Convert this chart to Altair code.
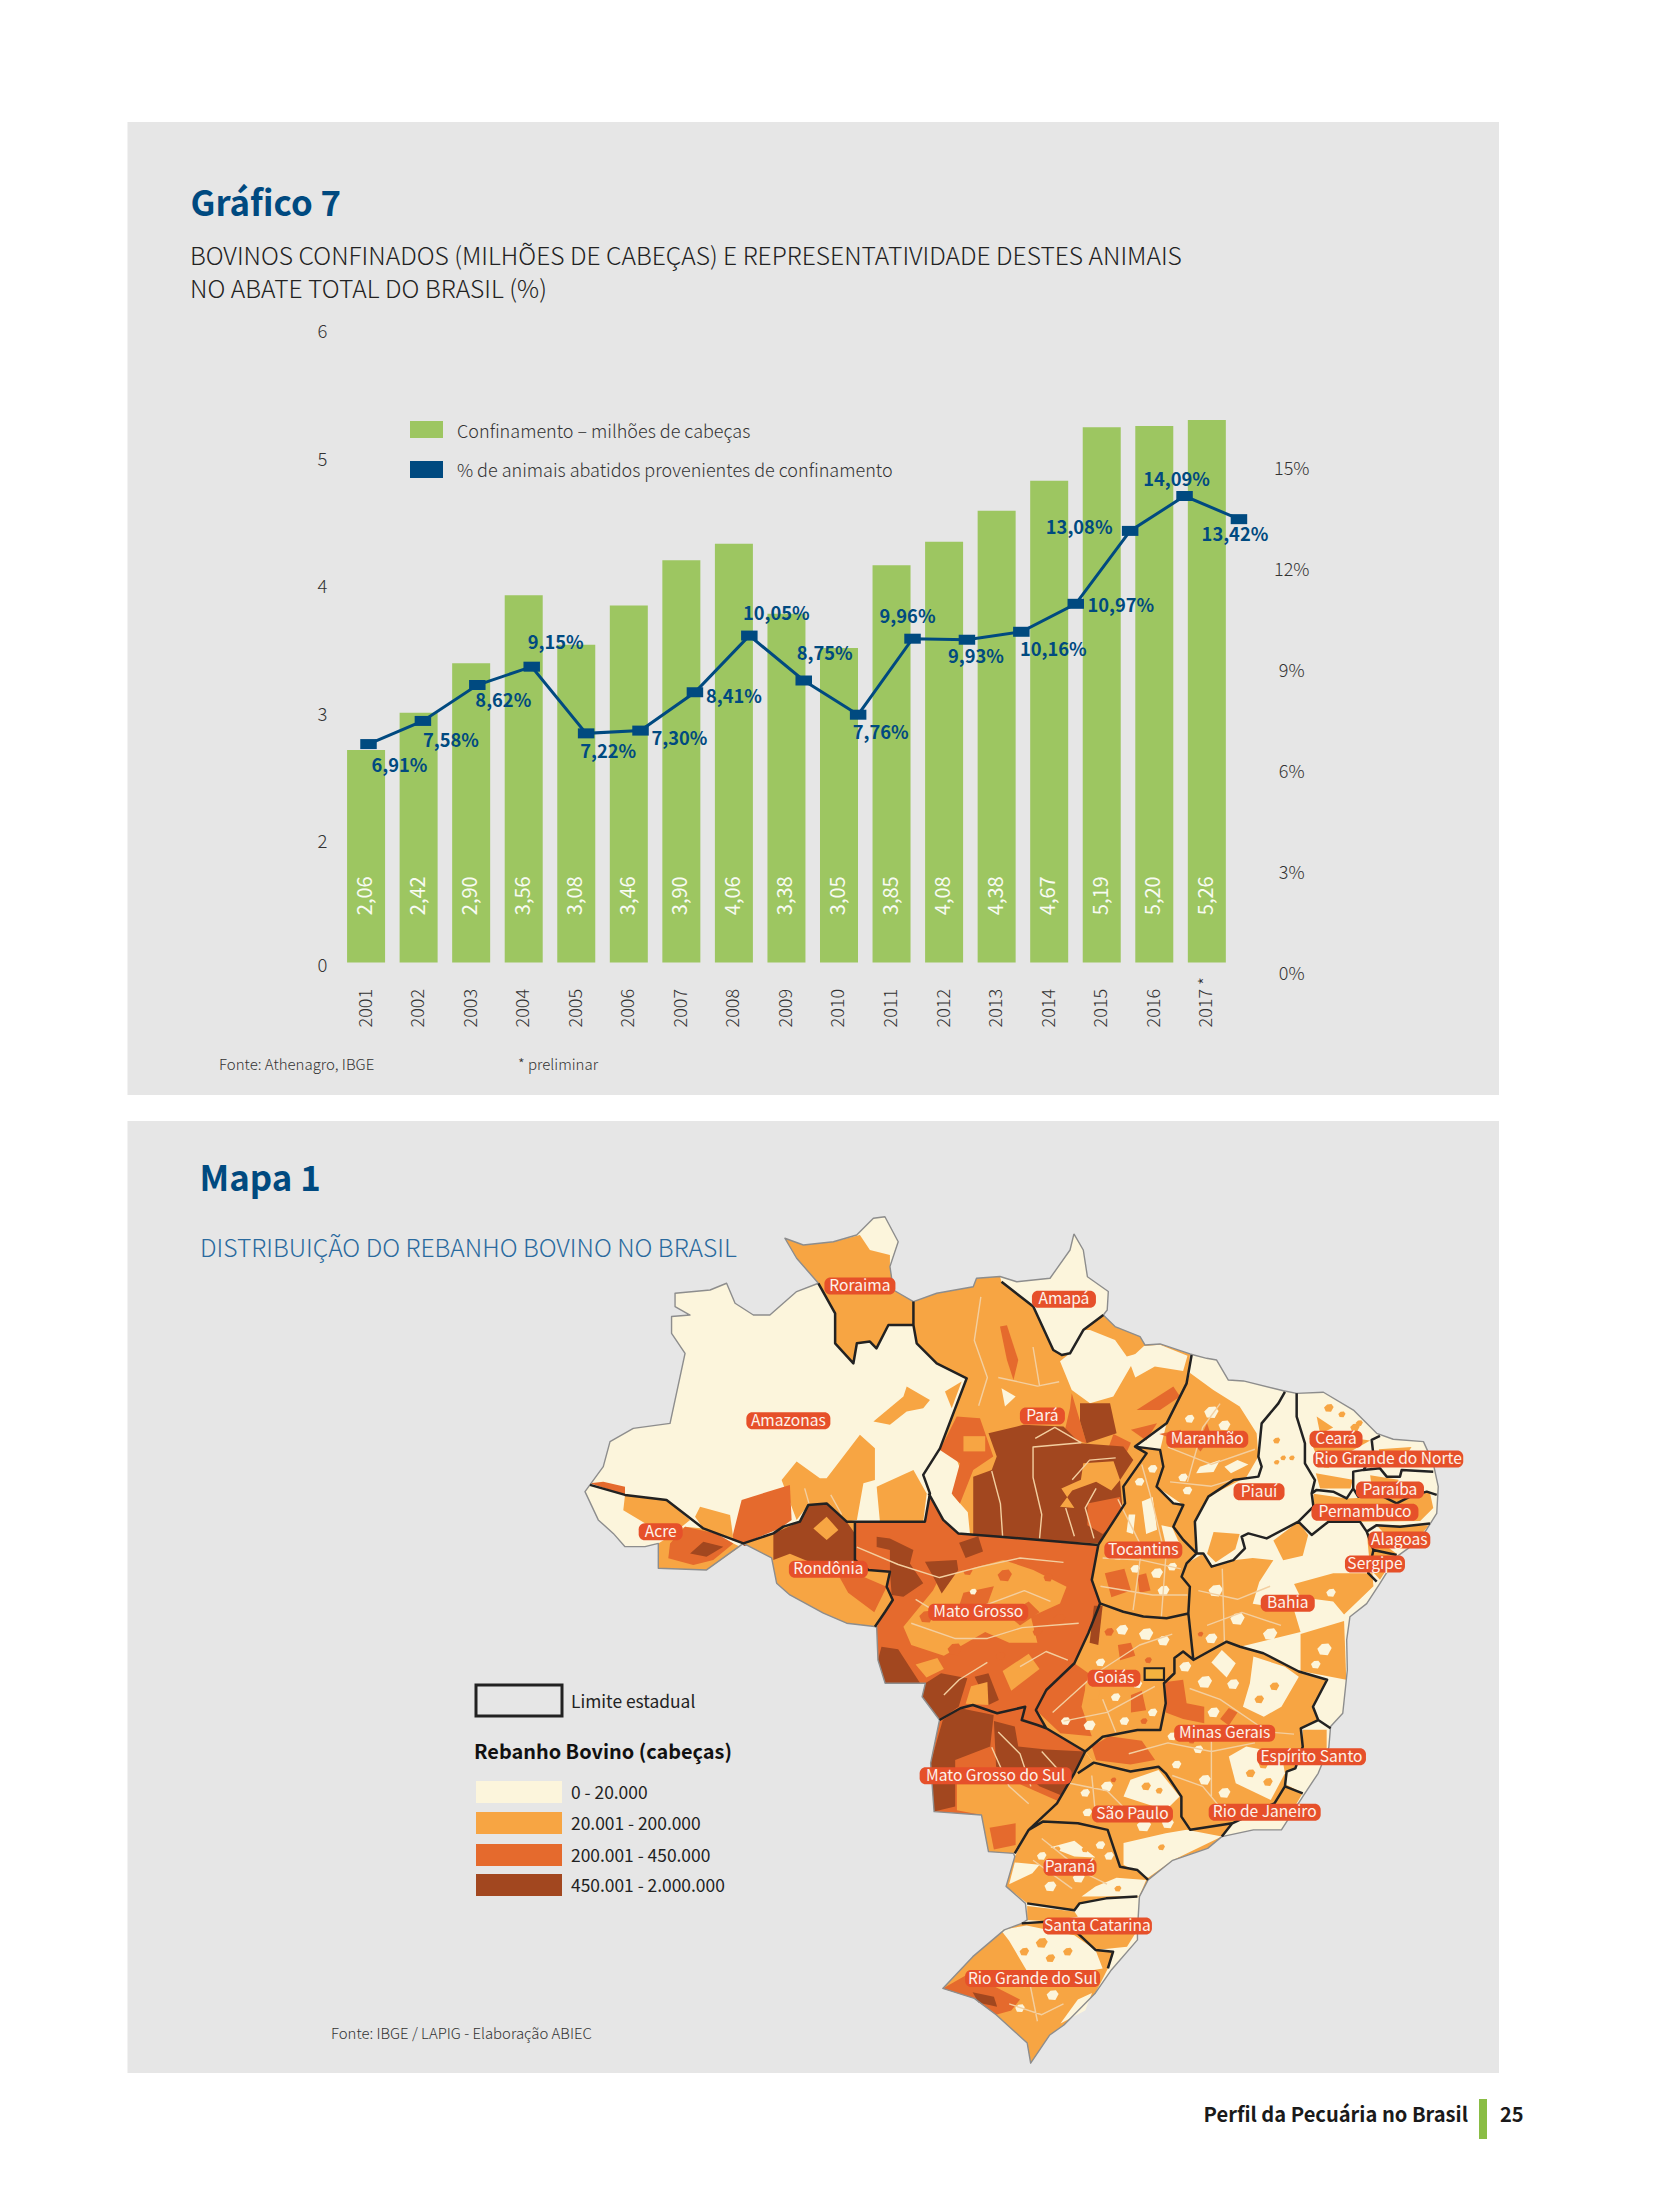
import altair as alt
import pandas as pd

FONT = "Noto Sans CJK SC"
BLUE = "#004a80"
GREEN = "#9dc661"
GREY = "#e6e6e6"
DARK = "#333333"
C1, C2, C3, C4 = "#fcf5dc", "#f7a543", "#e56a2d", "#a2471f"
PILL = "#e6502a"

# ---------- chart values ----------
years = list(range(2001, 2018))
confinados = [2.06, 2.42, 2.90, 3.56, 3.08, 3.46, 3.90, 4.06, 3.38, 3.05, 3.85, 4.08, 4.38, 4.67, 5.19, 5.20, 5.26]
pct = [6.91, 7.58, 8.62, 9.15, 7.22, 7.30, 8.41, 10.05, 8.75, 7.76, 9.96, 9.93, 10.16, 10.97, 13.08, 14.09, 13.42]
right_ticks = [0, 3, 6, 9, 12, 15]
left_labels = ["0", "2", "3", "4", "5", "6"]
left_label_at = [-0.03, 1.17, 2.40, 3.64, 4.87, 6.11]

# ---------- map values (lon, lat) ----------
outline = [(-51.52,4.4),(-51.09,3.66),(-50.9,2.43),(-49.94,1.75),(-49.99,0.9),(-50.17,0.67),(-49.63,0.14),(-48.48,-0.32),(-48.25,-0.71),(-47.56,-0.66),(-46.18,-1.12),(-45.42,-1.32),(-44.96,-1.4),(-44.42,-2.32),(-43.73,-2.36),(-41.89,-2.81),(-41.28,-2.93),(-40.05,-2.88),(-38.67,-3.7),(-37.6,-4.77),(-36.84,-5.04),(-35.45,-5.15),(-35,-6.15),(-34.77,-7.22),(-34.84,-8.45),(-35.61,-9.67),(-36.68,-10.44),(-37.45,-11.67),(-38.06,-12.6),(-38.83,-13.2),(-38.98,-14.27),(-38.95,-15.65),(-39.16,-17.64),(-39.72,-18.25),(-39.8,-19.2),(-40.29,-20.4),(-41,-21.47),(-41.98,-23),(-43.27,-23),(-44.72,-23.31),(-45.37,-23.85),(-46.98,-24.4),(-48.11,-25.3),(-48.51,-26.07),(-48.6,-27.6),(-48.6,-28.06),(-49.8,-29.44),(-50.53,-30.5),(-51.98,-31.97),(-52.63,-32.43),(-53.51,-33.73),(-53.67,-32.8),(-55.1,-31.5),(-56.1,-30.75),(-57.55,-30.29),(-56.17,-28.83),(-54.72,-27.6),(-53.92,-27.3),(-53.67,-27.14),(-53.75,-26.38),(-54.64,-25.6),(-54.24,-24.23),(-54.3,-24.08),(-55.45,-24),(-55.77,-22.32),(-57.95,-22.16),(-58.11,-19.94),(-57.7,-17.95),(-58.5,-16.88),(-58.35,-16.26),(-60.2,-16.26),(-60.53,-15.19),(-60.59,-13.66),(-61.97,-13.5),(-63.04,-13.04),(-64.58,-12.2),(-65.19,-11.66),(-65.42,-10.5),(-66.72,-9.83),(-68.41,-11.05),(-70.63,-10.97),(-70.63,-9.83),(-71.24,-9.98),(-72.16,-9.98),(-72.7,-9.37),(-73.39,-8.75),(-74,-7.45),(-73.16,-6.3),(-72.85,-5.15),(-71.78,-4.54),(-70.09,-4.31),(-69.4,-1.09),(-70.02,-0.17),(-70.02,0.6),(-69.17,0.67),(-69.86,1.06),(-69.86,1.67),(-68.25,1.82),(-67.49,2.13),(-67.1,1.21),(-66.26,0.67),(-65.5,0.67),(-64.27,1.75),(-63.27,2.13),(-64.27,3.28),(-64.81,4.2),(-63.96,3.89),(-62.58,4.04),(-61.51,4.35),(-60.74,5.12),(-60.21,5.19),(-59.6,4.04),(-59.98,2.9),(-59.82,1.82),(-58.9,1.29),(-57.83,1.67),(-56.15,1.97),(-56,2.36),(-54.92,2.44),(-54.15,2.2),(-52.62,2.36),(-51.7,3.66)]

para = [(-58.9,1.29),(-57.83,1.67),(-56.15,1.97),(-56,2.36),(-54.92,2.44),(-54.85,2.2),(-53.39,1.06),(-52.47,-0.94),(-52.08,-1.17),(-51.7,-1.09),(-51.09,-0.02),(-50.17,0.67),(-49.63,0.14),(-48.48,-0.32),(-48.25,-0.71),(-47.56,-0.66),(-46.18,-1.12),(-46.34,-2.47),(-47.26,-4.31),(-48.71,-5.38),(-48.18,-5.69),(-49.25,-7.22),(-49.17,-7.99),(-49.86,-9.06),(-50.4,-9.9),(-54.92,-9.52),(-56.84,-9.37),(-57.53,-8.75),(-58.2,-7.53),(-58.45,-6.68),(-57.68,-5.46),(-56.45,-2.24),(-57.83,-1.55),(-58.75,-0.63),(-58.9,0.21)]
mato_grosso = [(-61.59,-8.83),(-58.37,-8.83),(-58.2,-7.53),(-57.53,-8.75),(-56.84,-9.37),(-54.92,-9.52),(-50.4,-9.9),(-50.7,-11.51),(-50.32,-12.59),(-50.86,-13.96),(-51.5,-15.34),(-52.79,-16.57),(-53.27,-17.49),(-52.79,-18.33),(-53.2,-18.18),(-53.92,-17.95),(-53.76,-17.34),(-55.05,-17.64),(-56.17,-17.26),(-56.74,-17.41),(-57.7,-17.95),(-58.5,-16.88),(-58.35,-16.26),(-60.2,-16.26),(-60.53,-15.19),(-60.59,-13.66),(-60.2,-12.97),(-59.85,-12.43),(-60.13,-11.82),(-59.98,-11.13),(-60.97,-11.05),(-61.59,-10.59)]
mato_sul = [(-57.7,-17.95),(-56.74,-17.41),(-56.17,-17.26),(-55.05,-17.64),(-53.76,-17.34),(-53.92,-17.95),(-53.2,-18.18),(-52.79,-18.33),(-51,-19.4),(-51.5,-20.4),(-52.3,-21.78),(-53.6,-23),(-54.24,-24.08),(-55.45,-24),(-55.77,-22.32),(-57.95,-22.16),(-58.11,-19.94)]
rondonia = [(-65.34,-9.37),(-64.88,-9.06),(-64.12,-8.83),(-63.73,-8.06),(-62.89,-7.99),(-61.97,-8.83),(-61.59,-8.83),(-61.59,-10.59),(-60.97,-11.05),(-59.98,-11.13),(-60.13,-11.82),(-59.85,-12.43),(-60.2,-12.97),(-60.59,-13.66),(-61.97,-13.5),(-63.04,-13.04),(-64.58,-12.2),(-65.19,-11.66),(-65.42,-10.5),(-66.72,-9.83)]
goias = [(-50.32,-12.59),(-49.25,-12.97),(-48.33,-13.19),(-47.26,-13.27),(-46.26,-13.05),(-46.03,-15.19),(-46,-15.2),(-46.5,-14.8),(-46.9,-15.1),(-46.9,-15.8),(-47.38,-16.26),(-47.3,-17.18),(-47.55,-18.41),(-48.6,-18.41),(-50.2,-18.72),(-51,-19.4),(-52.79,-18.33),(-53.27,-17.49),(-52.79,-16.57),(-51.5,-15.34),(-50.86,-13.96)]
tocantins = [(-48.71,-5.38),(-47.56,-5.53),(-47.41,-6.3),(-47.72,-7.22),(-46.95,-7.99),(-46.49,-8.06),(-46.95,-9.06),(-46.49,-9.67),(-45.88,-10.29),(-46.34,-10.75),(-46.57,-11.36),(-46.19,-11.82),(-46.26,-13.05),(-47.26,-13.27),(-48.33,-13.19),(-49.25,-12.97),(-50.32,-12.59),(-50.7,-11.51),(-50.4,-9.9),(-49.86,-9.06),(-49.17,-7.99),(-49.25,-7.22),(-48.18,-5.69)]
minas = [(-46.03,-15.19),(-44.5,-14.35),(-43.88,-14.58),(-42.81,-14.88),(-41.18,-15.72),(-39.88,-16.1),(-40.53,-17.34),(-40.29,-17.95),(-41.09,-18.33),(-41,-19.17),(-41.34,-20.17),(-41.74,-20.32),(-41.82,-21),(-42.3,-21.78),(-44.24,-22.7),(-46.17,-23),(-46.58,-22.39),(-46.58,-21.47),(-47.3,-20.4),(-47.63,-20.1),(-48.92,-20.32),(-50.61,-19.91),(-51,-19.4),(-50.2,-18.72),(-48.6,-18.41),(-47.55,-18.41),(-47.3,-17.18),(-47.38,-16.26),(-46.9,-15.8),(-46.9,-15.1),(-46.5,-14.8),(-46,-15.2)]
sao_paulo = [(-51,-19.4),(-50.61,-19.91),(-48.92,-20.32),(-47.63,-20.1),(-47.3,-20.4),(-46.58,-21.47),(-46.58,-22.39),(-46.17,-23),(-44.24,-22.7),(-44.72,-23.31),(-45.37,-23.85),(-46.98,-24.4),(-48.11,-25.3),(-48.6,-24.85),(-49.4,-24.7),(-49.97,-23),(-51.34,-22.7),(-52.95,-22.62),(-53.6,-23),(-52.3,-21.78),(-51.5,-20.4)]
parana = [(-53.6,-23),(-52.95,-22.62),(-51.34,-22.7),(-49.97,-23),(-49.4,-24.7),(-48.6,-24.85),(-48.11,-25.3),(-48.51,-26.07),(-50.04,-26.15),(-51.26,-26.38),(-51.5,-26.7),(-53.67,-26.38),(-54.64,-25.6),(-54.24,-24.23)]
rio_sul = [(-53.92,-27.3),(-52.79,-27.22),(-51.34,-27.76),(-50.53,-28.52),(-49.72,-28.6),(-49.96,-29.37),(-50.53,-30.5),(-51.98,-31.97),(-52.63,-32.43),(-53.51,-33.73),(-53.67,-32.8),(-55.1,-31.5),(-56.1,-30.75),(-57.55,-30.29),(-56.17,-28.83),(-54.72,-27.6)]

patches = [
 (C2, [(-64.81,4.2),(-63.96,3.89),(-62.58,4.04),(-61.36,4.35),(-60.9,3.66),(-59.98,3.43),(-59.98,2.9),(-59.82,1.82),(-58.9,1.29),(-58.9,0.21),(-60.05,0.21),(-60.6,-0.86),(-60.9,-0.55),(-61.5,-0.63),(-61.66,-1.55),(-62.5,-0.63),(-62.5,0.75),(-63.27,2.13),(-64.27,3.28)]),
 (C2, para),
 (C1, [(-52.16,-1.46),(-51.7,-1.09),(-51.09,-0.02),(-50.78,-0.02),(-49.63,-0.48),(-49.09,-1.24),(-48.56,-1.09),(-49.71,-3.08),(-50.78,-3.39),(-51.62,-2.78)]),
 (C1, [(-48.3,-0.75),(-47.56,-0.7),(-46.3,-1.2),(-46.5,-1.9),(-47.8,-1.7),(-48.7,-2.2),(-49,-1.4)]),
 (C1, [(-58.1,-6.0),(-57.68,-5.5),(-56.9,-6.0),(-56.76,-6.4),(-57.1,-7.6),(-56.4,-8.4),(-56.3,-9.4),(-56.84,-9.37),(-57.53,-8.75),(-58.2,-7.53),(-58.45,-6.68)]),
 (C1, [(-54.85,-2.7),(-54.2,-3.08),(-54.69,-3.54)]),
 (C3, [(-54.92,0.14),(-54.6,0.2),(-54.08,-1.4),(-54.3,-2.32),(-54.6,-1.4)]),
 (C3, [(-56.91,-4),(-55.84,-4.08),(-55.23,-5.84),(-56.15,-6.45),(-56.76,-7.99),(-57.14,-7.53),(-56.76,-6.15),(-57.68,-5.53)]),
 (C2, [(-56.6,-4.9),(-55.6,-4.9),(-55.6,-5.6),(-56.6,-5.6)]),
 (C3, [(-48.64,-3.7),(-46.95,-2.62),(-46.64,-3.08),(-47.56,-3.7)]),
 (C3, [(-48.9,-4.6),(-47.7,-4.3),(-48.2,-5.1)]),
 (C3, [(-51.62,-2.93),(-50.94,-5.23),(-52,-4.9),(-51.7,-3.6)]),
 (C4, [(-51.24,-3.39),(-49.86,-3.39),(-49.56,-4.77),(-50.94,-5.23),(-51.24,-4.2)]),
 (C3, [(-49.7,-4.8),(-48.9,-5.2),(-49.3,-6.1),(-50,-5.6)]),
 (C4, [(-55.45,-4.77),(-53.85,-4.38),(-52,-4.46),(-51.24,-5.23),(-49.25,-5.38),(-48.79,-6),(-49.4,-6.92),(-49.25,-8.75),(-50.32,-9.83),(-56.15,-9.52),(-56.15,-6.76),(-55.3,-6.45),(-55.07,-5.84)]),
 (C2, [(-51.09,-6.15),(-49.7,-6.05),(-49.4,-6.92),(-49.8,-7.4),(-50.5,-7.0),(-51.6,-7.4),(-52.16,-8.14),(-51.5,-8.2),(-52.1,-7.3),(-51.2,-6.9)]),
 (C3, [(-50.9,-8),(-49.4,-7.7),(-49.3,-8.6),(-50.2,-9.4),(-50.9,-9.0)]),
 # Amazonas
 (C2, [(-62.89,-6.84),(-61.36,-4.84),(-60.67,-5.46),(-60.67,-6.91),(-61.2,-7.07),(-61.5,-8.75),(-61.97,-8.83),(-62.89,-7.99),(-63.73,-8.06),(-64.27,-8.75),(-64.96,-6.91),(-64.27,-6.07),(-63.2,-6.84)]),
 (C2, [(-60.59,-7.22),(-58.9,-6.45),(-58.29,-7.53),(-58.45,-8.83),(-60.44,-8.83)]),
 (C2, [(-60.74,-4.23),(-59.36,-3.08),(-59.21,-2.62),(-58.14,-3.24),(-58.45,-3.62),(-59.21,-3.77),(-59.98,-4.38)]),
 (C2, [(-57.45,-2.85),(-56.68,-2.39),(-57.14,-3.62)]),
 (C3, [(-67.26,-9.67),(-66.8,-7.83),(-64.58,-7.14),(-64.5,-8.75),(-65.04,-9.14),(-66.72,-9.83)]),
 (C2, [(-68.94,-8.6),(-68.71,-8.14),(-67.33,-8.52),(-67.18,-9.6),(-68.56,-9.14)]),
 (C3, [(-73.77,-7.07),(-73.16,-6.99),(-72.16,-7.22),(-72.16,-7.6)]),
 # Acre
 (C2, [(-72.16,-7.6),(-70.25,-7.83),(-69.17,-8.75),(-70.09,-9.5),(-70.63,-9.5),(-71.24,-8.9),(-72.24,-8.3)]),
 (C2, [(-70.63,-9.83),(-70.63,-10.97),(-68.41,-11.05),(-66.87,-9.98),(-68.56,-9.14),(-69.4,-9.06)]),
 (C3, [(-70.17,-10.51),(-70.09,-9.83),(-69.4,-9.06),(-67.95,-9.37),(-67.18,-9.83),(-68.1,-10.59),(-69.02,-10.82)]),
 (C4, [(-69.17,-10.29),(-68.56,-9.75),(-67.64,-9.98),(-68.41,-10.44)]),
 (C4, [(-66.72,-9.83),(-65.34,-9.37),(-65.19,-9.67),(-66.7,-9.95)]),
 # Rondonia
 (C2, rondonia),
 (C4, [(-65.34,-10.59),(-65.34,-9.37),(-64.12,-8.83),(-63.73,-8.06),(-62.89,-7.99),(-61.97,-8.83),(-61.59,-9.37),(-61.59,-10.59),(-61.2,-11.36),(-62.43,-10.9),(-63.5,-10.75),(-64.58,-10.3)]),
 (C2, [(-63.5,-9.14),(-62.89,-8.6),(-62.35,-9.21),(-62.89,-9.67)]),
 (C3, [(-62.4,-11.2),(-61.2,-11.36),(-60.13,-11.82),(-60.7,-13),(-61.9,-12.1)]),
 # Mato Grosso
 (C3, mato_grosso),
 (C2, [(-59.36,-13.66),(-58,-12),(-57.68,-11.36),(-54.77,-10.59),(-53.39,-11.05),(-51.86,-11.82),(-52.16,-12.59),(-53.5,-13.2),(-53.2,-14.4),(-54.5,-14.4),(-55.6,-13.9),(-57.5,-15),(-59,-14.5)]),
 (C3, [(-56.6,-12.1),(-55.2,-11.8),(-55.6,-12.9),(-56.9,-13)]),
 (C3, [(-54.6,-13.1),(-53.6,-12.5),(-53.1,-13.0),(-54,-13.6)]),
 (C4, [(-60.59,-9.52),(-59.98,-9.6),(-58.9,-10.13),(-59.06,-10.75),(-58.45,-11.66),(-59.36,-12.28),(-59.9,-12.2),(-59.98,-11.13),(-59.98,-10.13),(-60.59,-10)]),
 (C4, [(-58.37,-10.67),(-56.91,-10.59),(-56.84,-11.05),(-57.6,-12.13),(-57.91,-11.51)]),
 (C4, [(-55.92,-9.5),(-55.7,-10.2),(-56.5,-10.5),(-56.8,-9.8)]),
 (C4, [(-60.53,-15.19),(-60.37,-14.58),(-59.6,-14.7),(-59.08,-15.5),(-58.59,-16.26),(-60.2,-16.26)]),
 (C4, [(-58.5,-16.88),(-58.35,-16.26),(-57.63,-15.8),(-56.42,-16.03),(-56.82,-17.34),(-57.7,-17.95)]),
 (C4, [(-56.09,-15.96),(-55.45,-15.8),(-54.97,-17.03),(-55.45,-17.26)]),
 (C2, [(-56.5,-17.2),(-56.25,-16.4),(-55.5,-16.2),(-55.45,-17.26)]),
 (C2, [(-54.8,-15.7),(-53.6,-14.9),(-53.1,-15.6),(-54.4,-16.6)]),
 (C2, [(-58.8,-15.4),(-57.8,-15.1),(-57.5,-15.6),(-58.3,-16)]),
 # Mato Grosso do Sul
 (C3, mato_sul),
 (C4, [(-57.55,-17.95),(-56.74,-17.41),(-55.21,-17.72),(-55.37,-19.17),(-56.98,-19.79),(-56.98,-21.93),(-57.95,-22.16),(-58.11,-19.94)]),
 (C4, [(-55.2,-18.0),(-54.24,-18.25),(-54.08,-19.17),(-52.8,-19.3),(-51,-19.4),(-51.5,-20.4),(-51.98,-21.47),(-53.11,-21),(-53.75,-20.4),(-55.1,-20.1)]),
 (C2, [(-56.9,-20.9),(-54,-20.9),(-52.2,-21.7),(-53.6,-23),(-54.24,-24.08),(-55.45,-24),(-55.77,-22.32),(-56.9,-22.1)]),
 (C3, [(-55.4,-22.9),(-54.2,-22.7),(-54.2,-23.7),(-55.2,-23.9)]),
 # Tocantins, Goias
 (C2, tocantins),
 (C1, [(-48.4,-7.9),(-47.9,-7.7),(-47.7,-9.2),(-48.2,-9.4)]),
 (C1, [(-47.5,-9),(-47,-9.1),(-46.6,-10),(-47.2,-10.3)]),
 (C1, [(-49,-8.5),(-48.7,-8.5),(-48.8,-9.4),(-49.1,-9.3)]),
 (C3, [(-50.1,-11.2),(-49.2,-11),(-48.9,-12),(-49.8,-12.3)]),
 (C3, [(-48.6,-11.3),(-48.2,-11.2),(-48,-12),(-48.5,-12.1)]),
 (C2, goias),
 (C3, [(-53.27,-17.49),(-52.79,-16.57),(-51.5,-15.34),(-50.85,-15.8),(-51.17,-17.34),(-50.7,-18.7),(-52.14,-18.56)]),
 (C3, [(-49.5,-14.5),(-48.9,-14.4),(-48.7,-15),(-49.4,-15.2)]),
 (C3, [(-48.9,-16.8),(-48.4,-16.6),(-48.2,-17.5),(-48.9,-17.6)]),
 (C2, [(-51,-16.2),(-50.2,-16),(-50.4,-17),(-51,-17)]),
 (C4, [(-50.6,-12.7),(-50.2,-12.7),(-50.4,-14.5),(-50.8,-14.4)]),
 # Minas Gerais and neighbours
 (C2, minas),
 (C1, [(-43.27,-15.03),(-41.82,-15.5),(-41.18,-15.96),(-41.98,-17.34),(-42.79,-17.8),(-43.75,-17.34),(-43.43,-16.26)]),
 (C1, [(-44.4,-19.63),(-43.6,-19.17),(-41.98,-19.48),(-41.82,-20.4),(-42.47,-21.63),(-44.08,-20.86)]),
 (C1, [(-44.72,-14.73),(-44.08,-15.34),(-44.5,-16),(-45.2,-15.3)]),
 (C3, [(-50.7,-19.17),(-49.9,-18.7),(-48.4,-18.9),(-47.79,-19.79),(-48.92,-20),(-50.5,-19.8)]),
 (C3, [(-47.3,-16.2),(-46.5,-16.1),(-46.34,-17.18),(-45.53,-17.34),(-45.53,-18.1),(-46.5,-17.9),(-47.3,-17.6)]),
 (C3, [(-44.4,-17.4),(-44,-17.6),(-44.4,-18.2),(-44.8,-17.9)]),
 (C2, sao_paulo),
 (C1, [(-48.92,-20.7),(-47.63,-20.25),(-46.66,-21.47),(-47.3,-22.1),(-49.24,-21.47)]),
 (C1, [(-49.24,-24.6),(-49.24,-23.6),(-47.3,-23.16),(-46.34,-23),(-44.72,-23.31),(-46.98,-24.4),(-48.11,-25.2),(-49.08,-24.7)]),
 (C2, parana),
 (C1, [(-52.6,-23.8),(-51.5,-23.5),(-50.53,-24.27),(-51.5,-24.23)]),
 (C1, [(-49.56,-25.2),(-48.2,-25.3),(-48.51,-26.05),(-51.17,-26.07),(-50.53,-25.6)]),
 (C1, [(-54.24,-24.5),(-53.1,-24.6),(-53.43,-25),(-54.5,-25.5)]),
 (C2, [(-53.67,-26.5),(-51.5,-26.75),(-51.34,-27),(-52.79,-27.2),(-53.67,-27.14)]),
 (C2, [(-51.34,-27.8),(-50.53,-28.52),(-49.08,-28.37),(-48.6,-27.6),(-49.6,-27.6)]),
 (C2, rio_sul),
 (C1, [(-54.88,-27.6),(-53.7,-27.4),(-51.5,-27.85),(-50.53,-28.52),(-50.2,-29.37),(-51.5,-29.6),(-53.7,-29.45),(-54.5,-28.1)]),
 (C1, [(-52.14,-31.9),(-51.34,-30.8),(-50.69,-30.5),(-51,-31.3)]),
 (C3, [(-57.55,-30.29),(-56.34,-29.6),(-54,-30.8),(-54.4,-31.3),(-55.1,-31.5),(-56.1,-30.75)]),
 (C4, [(-56.18,-30.47),(-55.2,-30.67),(-55.05,-31.13),(-55.9,-30.95)]),
 # Maranhao, Piaui, Ceara, Northeast
 (C2, [(-46.18,-2),(-45.11,-2.78),(-43.9,-3.54),(-43.12,-4.77),(-43.04,-5.84),(-43.58,-6.76),(-45.34,-7.68),(-45.96,-8.83),(-45.88,-10.29),(-46.49,-9.67),(-46.95,-9.06),(-46.49,-8.06),(-47.72,-7.22),(-47.41,-6.3),(-47.56,-5.53),(-47.26,-4.31),(-46.34,-2.47)]),
 (C1, [(-45.73,-6.3),(-44.8,-6),(-45.1,-6.55),(-45.9,-6.6)]),
 (C1, [(-44.6,-6.3),(-44,-6),(-43.5,-6.2),(-44.3,-6.6)]),
 (C3, [(-45.9,-5.4),(-45.4,-4.3),(-45.2,-4.9),(-45.7,-5.6)]),
 (C3, [(-47.6,-4.8),(-46.6,-4.6),(-46.7,-5.1)]),
 (C2, [(-45.1,-9.3),(-43.9,-9.4),(-44.1,-10.1),(-45.0,-10.7),(-45.4,-10.3)]),
 (C2, [(-40.7,-5.0),(-38.66,-5),(-37.9,-5.1),(-38.8,-5.6),(-40.4,-5.7)]),
 (C2, [(-40.36,-4),(-39.6,-4.5),(-40.2,-4.8)]),
 (C2, [(-40.4,-6.6),(-38.7,-6.9),(-38.8,-7.3),(-40.2,-7.3)]),
 (C2, [(-37.5,-5.5),(-36,-5.4),(-36.5,-6.2),(-37.4,-6.3)]),
 (C2, [(-37.9,-6.7),(-36.6,-6.9),(-36.6,-7.5),(-37.8,-7.5)]),
 (C2, [(-40.5,-7.55),(-38.98,-7.76),(-37.3,-7.68),(-35.15,-7.5),(-35,-8.2),(-35.6,-8.8),(-38.37,-8.83),(-39.82,-8.83),(-40.51,-8.14)]),
 (C2, [(-42.35,-9.7),(-41.2,-8.83),(-40.75,-9.44),(-41,-10.4),(-41.9,-10.6)]),
 (C2, [(-46.34,-10.75),(-45.57,-10.29),(-45.19,-10.9),(-44.19,-10.6),(-43.3,-10.5),(-42.35,-10.6),(-43,-11.6),(-43.3,-12.6),(-41.4,-12.9),(-41.1,-13.9),(-43.88,-14.58),(-44.5,-14.35),(-46.03,-15.19),(-46.26,-13.05),(-46.19,-11.82),(-46.57,-11.36)]),
 (C2, [(-41.4,-11.7),(-39.6,-11.2),(-37.8,-11.2),(-37.75,-11.8),(-39.1,-13.1),(-39.6,-12.5),(-41.1,-12.3)]),
 (C2, [(-41.1,-14.0),(-39.1,-13.4),(-39,-16.1),(-41.1,-15.7)]),
 (C2, [(-38.06,-9.29),(-36.68,-10.3),(-37.45,-11.5),(-37.9,-11)]),
 (C2, [(-37.6,-9),(-35.2,-9),(-35.7,-9.6),(-36.6,-10.1)]),
 (C2, [(-41,-18.4),(-39.9,-18.4),(-39.9,-19.5),(-41,-19.3)]),
 (C2, [(-41.8,-20.9),(-41,-21.3),(-41.7,-22.5),(-43,-22.5),(-42.4,-21.7)]),
 (C1, [(-41.2,-19.5),(-40,-19.5),(-40.4,-20.6),(-41.1,-20.9)]),
]

# small municipal clusters: lon, lat, radius in degrees
cream_spots = [(-47.7,-11.2,.25),(-48.7,-11,.2),(-47.4,-12,.25),(-49.5,-10.4,.2),(-47,-10.9,.2),(-48.5,-7,.2),(-47.9,-6.4,.2),
 (-49.3,-13.8,.25),(-48.2,-14,.3),(-47.4,-14.3,.25),(-50.3,-15.3,.2),(-49.6,-16.9,.2),(-48.6,-16.3,.2),(-49.2,-18,.2),(-51.9,-18,.2),(-50.8,-18.2,.25),(-47.9,-17.6,.2),
 (-46.4,-15.5,.25),(-45.5,-16.2,.3),(-44.2,-16.3,.25),(-45.1,-17.6,.25),(-47,-18.7,.2),(-45.8,-19.3,.2),(-46.8,-20,.2),(-45.5,-20.7,.25),(-44.6,-21.3,.25),
 (-50,-21,.25),(-51,-21.3,.2),(-49.9,-22.2,.25),(-48.3,-22.8,.3),(-47.2,-22.7,.25),(-50.9,-22.2,.2),
 (-53,-24.2,.2),(-50.3,-23.7,.2),(-52.6,-25.6,.25),(-51.3,-25.2,.25),(-49.9,-24.2,.2),
 (-54,-31.2,.2),(-52.5,-30.6,.25),(-51.2,-29.9,.25),(-53,-29.9,.2),
 (-45,-12,.3),(-44,-13.3,.3),(-42.5,-14,.3),(-45.2,-14.2,.25),(-40.5,-13.3,.2),(-40,-14.7,.3),(-40.4,-15.4,.2),(-39.7,-12.1,.2),
 (-45.2,-3.8,.3),(-44.6,-4.4,.25),(-46.2,-4.1,.2),(-46.5,-6.8,.2),(-45,-8.2,.25),(-46.3,-7.4,.2),(-56.15,-12.05,.15)]
orange_spots = [(-42.2,-5.1,.15),(-41.9,-5.9,.12),(-42.2,-6.1,.12),(-41.5,-5.9,.12),(-39.8,-3.6,.2),(-39.2,-3.9,.15),(-38.6,-4.5,.2),(-39.9,-6.2,.18),(-39,-6.1,.2),(-37.9,-6.2,.15),(-38.4,-4.3,.15),
 (-42.3,-16.4,.2),(-43,-17,.2),(-42.8,-20,.2),(-43.4,-20.4,.2),(-42.6,-20.8,.2),(-53,-28.2,.25),(-51.8,-28.6,.2),(-52.6,-28.9,.2),(-53.8,-28.6,.2),
 (-48.2,-21,.2),(-47.6,-21.2,.15),(-47.5,-23.8,.15),(-49.5,-25.7,.15),(-52.3,-23.9,.15),(-51,-23.9,.15)]
mid_spots = [(-57,-14.7,.3),(-58.3,-13.2,.3),(-54.7,-11.3,.3),(-52.7,-11.4,.2),(-56.4,-11.1,.2),(-53.2,-13.9,.2),(-52.2,-13.3,.25),(-54.9,-15,.2),(-45.7,-14,.12),
 (-48.1,-15.2,.15),(-49.8,-15.8,.18),(-49.9,-13.9,.2),(-48.3,-18,.15),(-46.1,-18.9,.15),(-49.7,-20.7,.12)]

state_borders = [
 [(-54.85,2.2),(-53.39,1.06),(-52.47,-0.94),(-52.08,-1.17),(-51.7,-1.09),(-51.09,-0.02),(-50.17,0.67)],
 [(-63.27,2.13),(-62.5,0.75),(-62.5,-0.63),(-61.66,-1.55),(-61.5,-0.63),(-60.9,-0.55),(-60.6,-0.86),(-60.05,0.21),(-58.9,0.21),(-58.9,1.29)],
 [(-58.9,0.21),(-58.75,-0.63),(-57.83,-1.55),(-56.45,-2.24),(-57.68,-5.46),(-58.45,-6.68),(-58.14,-7.53),(-58.37,-8.83),(-61.59,-8.83)],
 [(-58.2,-7.53),(-57.53,-8.75),(-56.84,-9.37),(-54.92,-9.52),(-50.4,-9.9)],
 [(-73.77,-7.14),(-72.16,-7.6),(-70.25,-7.83),(-68.56,-9.14),(-66.72,-9.83),(-65.34,-9.37),(-64.88,-9.06),(-64.12,-8.83),(-63.73,-8.06),(-62.89,-7.99),(-61.97,-8.83),(-61.59,-8.83),(-61.59,-10.59),(-60.97,-11.05),(-59.98,-11.13),(-60.13,-11.82),(-59.85,-12.43),(-60.2,-12.97),(-60.67,-13.66)],
 [(-46.11,-1.17),(-46.34,-2.47),(-47.26,-4.31),(-48.71,-5.38),(-48.18,-5.69),(-49.25,-7.22),(-49.17,-7.99),(-49.86,-9.06),(-50.4,-9.9),(-50.7,-11.51),(-50.32,-12.59),(-50.86,-13.96),(-51.5,-15.34),(-52.79,-16.57),(-53.27,-17.49),(-52.79,-18.33),(-51,-19.4),(-51.5,-20.4),(-52.3,-21.78),(-53.6,-23),(-54.24,-24.08)],
 [(-57.7,-17.95),(-56.74,-17.41),(-56.17,-17.26),(-55.05,-17.64),(-53.76,-17.34),(-53.92,-17.95),(-53.2,-18.18),(-52.79,-18.33)],
 [(-51,-19.4),(-50.2,-18.72),(-48.6,-18.41),(-47.55,-18.41),(-47.3,-17.18),(-47.38,-16.26),(-46.9,-15.8),(-46.9,-15.1),(-46.5,-14.8),(-46,-15.2)],
 [(-50.32,-12.59),(-49.25,-12.97),(-48.33,-13.19),(-47.26,-13.27),(-46.26,-13.05),(-46.19,-11.82),(-46.57,-11.36),(-46.34,-10.75),(-45.88,-10.29)],
 [(-48.71,-5.38),(-47.56,-5.53),(-47.41,-6.3),(-47.72,-7.22),(-46.95,-7.99),(-46.49,-8.06),(-46.95,-9.06),(-46.49,-9.67),(-45.88,-10.29),(-45.96,-8.83),(-45.34,-7.68),(-44.19,-6.92),(-43.04,-6.76),(-42.89,-6.3),(-43.04,-5.84),(-42.89,-4.31),(-42.12,-3.39),(-41.82,-2.86)],
 [(-41.28,-2.93),(-41.28,-4),(-40.9,-5.23),(-40.9,-6.15),(-40.44,-6.92),(-40.59,-7.53),(-40.51,-8.14),(-41.2,-8.83),(-42.66,-9.6),(-43.5,-9.37),(-43.81,-9.52),(-43.66,-10.06),(-44.19,-10.6),(-45.19,-10.9),(-45.57,-10.29),(-45.88,-10.29)],
 [(-40.59,-7.53),(-40.36,-7.37),(-39.6,-7.45),(-38.98,-7.76),(-38.68,-7.3),(-38.68,-6.53),(-38.2,-6.45),(-37.76,-5.69),(-37.83,-5.07),(-37.45,-4.89)],
 [(-38.2,-6.45),(-37.45,-6.38),(-37.14,-6.76),(-36.53,-6.76),(-36.45,-6.45),(-35,-6.53)],
 [(-38.68,-7.3),(-38.45,-7.68),(-37.3,-7.68),(-36.68,-7.99),(-36.07,-7.68),(-35.3,-7.45),(-34.84,-7.6)],
 [(-41.2,-8.83),(-40.59,-9.44),(-39.82,-8.83),(-38.37,-8.83),(-38.06,-9.29),(-37.6,-8.99),(-36.53,-9.06),(-35.15,-8.91)],
 [(-38.06,-9.29),(-37.75,-10.13),(-36.68,-10.36)],
 [(-37.75,-10.13),(-37.99,-11.2),(-37.6,-11.59)],
 [(-46.26,-13.05),(-46.03,-15.19),(-44.5,-14.35),(-43.88,-14.58),(-42.81,-14.88),(-41.18,-15.72),(-39.88,-16.1),(-40.53,-17.34),(-40.29,-17.95),(-39.72,-18.33)],
 [(-40.29,-17.95),(-41.09,-18.33),(-41,-19.17),(-41.34,-20.17),(-41.74,-20.32),(-41.82,-21),(-41,-21.32)],
 [(-41.82,-21),(-42.3,-21.78),(-44.24,-22.7),(-44.72,-23.31)],
 [(-44.24,-22.7),(-46.17,-23),(-46.58,-22.39),(-46.58,-21.47),(-47.3,-20.4),(-47.63,-20.1),(-48.92,-20.32),(-50.61,-19.91),(-51.34,-20.4)],
 [(-53.6,-23),(-52.95,-22.62),(-51.34,-22.7),(-49.97,-23),(-49.4,-24.7),(-48.6,-24.85),(-48.11,-25.3)],
 [(-53.67,-26.38),(-51.5,-26.7),(-51.26,-26.38),(-50.04,-26.15),(-48.6,-26.07)],
 [(-53.92,-27.3),(-52.79,-27.22),(-51.34,-27.76),(-50.53,-28.52),(-49.72,-28.6),(-49.96,-29.37)],
]
municipal_lines = [
 [(-53.3,-5.0),(-52.4,-4.5),(-51.2,-5.2),(-53.4,-5.4),(-53.4,-6.8),(-53,-8.5),(-53.1,-9.6)],
 [(-55.3,-6.5),(-54.9,-8),(-54.8,-9.5)],
 [(-51.9,-8.2),(-51.5,-9.5)],
 [(-51.6,-6.9),(-50.8,-6),(-49.6,-5.9)],
 [(-50.5,-7.3),(-51,-8.2),(-50.6,-9.6)],
 [(-55.8,1.5),(-56.1,-0.5),(-55.5,-2.2),(-55.9,-3.5)],
 [(-55,-2.2),(-53.2,-2.6),(-52.2,-2.4)],
 [(-53.4,-0.8),(-53.1,-2.6)],
 [(-62.7,-7.6),(-62.2,-8.5)],
 [(-63.9,-7.3),(-63.7,-8)],
 [(-61.5,-10),(-59.6,-10.8),(-57.7,-11.4),(-55.8,-10.9),(-54,-10.5),(-52,-10.7)],
 [(-58.8,-12.4),(-57.5,-13.2),(-55.4,-12.6),(-53.8,-12),(-52.6,-12.5)],
 [(-59,-13.5),(-57,-14.2),(-55.5,-14.2),(-53.9,-13.7),(-51.3,-13.5)],
 [(-54,-15.5),(-52.8,-14.8),(-51.8,-15.2)],
 [(-57.5,-16.8),(-56.8,-16.1),(-55.5,-15.3)],
 [(-55,-18.5),(-54,-19.5),(-53.5,-21)],
 [(-55.3,-19.2),(-54.5,-21),(-53.6,-21.8)],
 [(-53,-19.4),(-52,-20.5)],
 [(-49.5,-7.8),(-48.4,-10),(-48.8,-12.9)],
 [(-48.4,-6.2),(-47.9,-8),(-47.3,-10.5),(-47.5,-13.2)],
 [(-50.2,-10.5),(-48.4,-10.6),(-46.6,-11)],
 [(-50.3,-11.8),(-47.9,-12.2),(-46.3,-12.2)],
 [(-52.5,-17.6),(-50.5,-15.8),(-48.5,-14.5),(-47,-14)],
 [(-52,-18),(-50,-17.6),(-47.8,-16.4)],
 [(-50.2,-17),(-49.6,-18.5)],
 [(-46.3,-7),(-45.6,-4.5),(-44.8,-3.4)],
 [(-47.2,-5.4),(-45.2,-6.2),(-43.2,-5.5)],
 [(-47.1,-7),(-45.2,-7.2),(-44.2,-6.9)],
 [(-45.8,-12),(-44,-12.4),(-42.5,-11.8)],
 [(-45.4,-13.6),(-43.8,-13),(-42,-13.6)],
 [(-44.7,-11),(-44.6,-14.4)],
 [(-46.2,-16.5),(-44.8,-17),(-42.6,-18.5),(-41.4,-18.6)],
 [(-49,-19.5),(-47.2,-19),(-45.2,-19.4),(-43.2,-19)],
 [(-47,-20.5),(-45.6,-21),(-44.6,-22.2)],
 [(-45.2,-18.2),(-45.2,-21.5)],
 [(-52,-20.8),(-50,-21.2),(-48.8,-22.4)],
 [(-50.7,-20.5),(-50.5,-22.6)],
 [(-53,-23.4),(-51,-25),(-50,-25.5)],
 [(-53.4,-24.4),(-51.6,-25.7)],
 [(-56,-29.7),(-53.8,-30.2),(-51.6,-30)],
 [(-54.5,-31),(-53,-31.5),(-52,-31)],
 [(-53.6,-29.8),(-53.2,-31.8)],
]
distrito_federal = [(-48.27,-15.57),(-47.38,-15.57),(-47.38,-16.1),(-48.27,-16.1)]

state_names = ["Roraima","Amapá","Amazonas","Pará","Maranhão","Ceará","Rio Grande do Norte","Piauí","Paraíba","Pernambuco","Alagoas","Sergipe","Tocantins","Bahia","Acre","Rondônia","Mato Grosso","Goiás","Minas Gerais","Espírito Santo","Mato Grosso do Sul","São Paulo","Rio de Janeiro","Paraná","Santa Catarina","Rio Grande do Sul"]
state_lon = [-61.36,-51.98,-64.65,-52.97,-45.39,-39.47,-37.07,-43.01,-36.99,-38.14,-36.56,-37.68,-48.33,-41.69,-70.52,-62.81,-55.92,-49.68,-44.59,-40.6,-55.12,-48.83,-42.75,-51.7,-50.44,-53.42]
state_lat = [2.0,1.39,-4.19,-3.97,-5.04,-5.04,-5.95,-7.45,-7.37,-8.4,-9.67,-10.78,-10.13,-12.58,-9.29,-11.02,-12.99,-16.03,-18.56,-19.64,-20.51,-22.27,-22.19,-24.72,-27.42,-29.84]
pill_width = [71,64,84,45,82,53,150,51,68,107,62,60,78,54,44,79,100,53,101,109,152,81,112,53,109,135]

legend_labels = ["0 - 20.000", "20.001 - 200.000", "200.001 - 450.000", "450.001 - 2.000.000"]
legend_colors = [C1, C2, C3, C4]

# ---------- helpers ----------
ONE = alt.Data(values=[{"k": 1}])


def text(t, x, y, size, color=DARK, weight=400, align="left"):
    return alt.Chart(ONE).mark_text(
        font=FONT, fontSize=size, color=color, fontWeight=weight, align=align, baseline="middle"
    ).encode(x=alt.value(x), y=alt.value(y), text=alt.value(t))


def box(x, x2, y, y2, color, **kw):
    return alt.Chart(ONE).mark_rect(color=color, **kw).encode(
        x=alt.value(x), x2=alt.value(x2), y=alt.value(y), y2=alt.value(y2))


# ---------- top panel ----------
W, H1, H2 = 1371.5, 973, 952
df = pd.DataFrame({"year": years, "conf": confinados, "pct": pct,
                   "conf_label": [f"{v:.2f}".replace(".", ",") for v in confinados],
                   "pct_label": [f"{v:.2f}%".replace(".", ",") for v in pct]})
x_bar = alt.Scale(domain=[1996.46, 2022.56], nice=False, padding=0)
y_bar = alt.Scale(domain=[-1.2845, 8.148], nice=False, zero=False)
x_line = alt.Scale(domain=[1996.57, 2021.78], nice=False)
y_line = alt.Scale(domain=[-3.247, 24.915], nice=False, zero=False)
y_right = alt.Scale(domain=[-3.56, 25.30], nice=False, zero=False)

bars = alt.Chart(df).mark_bar(color=GREEN, size=38).encode(
    x=alt.X("year:Q", scale=x_bar, title=None, axis=alt.Axis(
        values=years, orient="bottom", offset=-68, domain=False, ticks=False, grid=False,
        labelAngle=270, labelAlign="left", labelBaseline="middle", labelPadding=0,
        labelFont=FONT, labelFontSize=18, labelFontWeight=300, labelColor=DARK, labelOverlap=False,
        labelExpr="datum.value == 2017 ? '2017 *' : toString(datum.value)")),
    y=alt.Y("conf:Q", scale=y_bar, axis=None),
    y2=alt.datum(0))
bar_text = alt.Chart(df).mark_text(font=FONT, fontSize=20, fontWeight=400, color="#f8fbf2", angle=270,
                                   align="center", baseline="middle").encode(
    x=alt.X("year:Q", scale=x_bar, axis=None), y=alt.value(773.7), text="conf_label:N")
left_df = pd.DataFrame({"at": left_label_at, "label": left_labels})
left_text = alt.Chart(left_df).mark_text(font=FONT, fontSize=18.5, fontWeight=300, color=DARK, align="center",
                                         baseline="middle").encode(
    x=alt.value(195), y=alt.Y("at:Q", scale=y_bar, axis=None), text="label:N")
line = alt.Chart(df).mark_line(color=BLUE, strokeWidth=3).encode(
    x=alt.X("year:Q", scale=x_line, axis=None), y=alt.Y("pct:Q", scale=y_line, axis=None))
markers = alt.Chart(df).mark_point(
    shape="M -0.825 -0.5 L 0.825 -0.5 L 0.825 0.5 L -0.825 0.5 Z", size=400, filled=True, opacity=1, color=BLUE
).encode(x=alt.X("year:Q", scale=x_line, axis=None), y=alt.Y("pct:Q", scale=y_line, axis=None))
right_axis = alt.Chart(pd.DataFrame({"v": right_ticks})).mark_point(opacity=0).encode(
    y=alt.Y("v:Q", scale=y_right, title=None, axis=alt.Axis(
        values=right_ticks, orient="right", offset=-207.8, domain=False, ticks=False, grid=False,
        labelAlign="center", labelPadding=0, labelFont=FONT, labelFontSize=18, labelFontWeight=300,
        labelColor=DARK, labelExpr="datum.value + '%'")))
label_shift = [(31,22.5),(28,21),(26,17),(24,-23),(22,20),(39,9.5),(39,6),(27,-21),(21,-26),(22.6,19.7),(-5,-21),(9,18),(32,19),(45,3),(-51,-2),(-8,-15),(-4,17)]
pct_labels = [
    alt.Chart(df[df.year == yr]).mark_text(font=FONT, fontSize=18.3, fontWeight=700, color=BLUE, dx=s[0], dy=s[1],
                                           align="center", baseline="middle").encode(
        x=alt.X("year:Q", scale=x_line, axis=None), y=alt.Y("pct:Q", scale=y_line, axis=None), text="pct_label:N")
    for yr, s in zip(years, label_shift)]

top = alt.layer(
    bars, bar_text, left_text, line, markers, right_axis, *pct_labels,
    text("Gráfico 7", 63, 83.5, 34.8, BLUE, 700),
    text("BOVINOS CONFINADOS (MILHÕES DE CABEÇAS) E REPRESENTATIVIDADE DESTES ANIMAIS", 62.5, 136, 24.6, "#222222", 300),
    text("NO ABATE TOTAL DO BRASIL (%)", 62.5, 169, 24.6, "#222222", 300),
    box(282.5, 315.5, 299, 316, GREEN),
    box(282.5, 315.5, 339, 356, BLUE),
    text("Confinamento – milhões de cabeças", 329.5, 310.5, 18, DARK, 300),
    text("% de animais abatidos provenientes de confinamento", 329.5, 350, 18, DARK, 300),
    text("Fonte: Athenagro, IBGE", 91.5, 943, 15, DARK, 300),
    text("* preliminar", 390.5, 943, 15, DARK, 300),
).resolve_scale(x="independent", y="independent").properties(
    width=W, height=H1, view=alt.ViewBackground(fill=GREY, stroke=None))

# ---------- map panel ----------
K = 21.75
TX, TY = 2067, 208.6
PROJ = dict(type="identity", reflectY=True, scale=K, translate=[TX, TY])


def poly(pts, cls):
    ring = [list(p) for p in pts]
    ring.append(ring[0])
    return {"type": "Feature", "properties": {"cls": cls}, "geometry": {"type": "Polygon", "coordinates": [ring]}}


def spot(lon, lat, r, cls):
    shape = [(1.1, 0.2), (0.6, 0.9), (-0.4, 0.8), (-1.1, 0.1), (-0.7, -0.8), (0.5, -0.9)]
    return poly([(lon + r * a, lat + r * b) for a, b in shape], cls)


def lines(chains):
    return {"type": "Feature", "properties": {},
            "geometry": {"type": "MultiLineString", "coordinates": [[list(p) for p in c] for c in chains]}}


fills = ([poly(outline, C1)] + [poly(p, c) for c, p in patches]
         + [spot(*s, C1) for s in cream_spots] + [spot(*s, C2) for s in orange_spots] + [spot(*s, C3) for s in mid_spots])
fill_layer = alt.Chart(alt.Data(values=fills)).mark_geoshape(strokeWidth=0).encode(
    color=alt.Color("properties.cls:N", scale=None, legend=None)).project(**PROJ)
pale_layer = alt.Chart(alt.Data(values=[lines(municipal_lines)])).mark_geoshape(
    filled=False, stroke="#f3cfa0", strokeWidth=1.4, strokeJoin="round").project(**PROJ)
out_ring = outline + [outline[0]]
outline_layer = alt.Chart(alt.Data(values=[lines([out_ring])])).mark_geoshape(
    filled=False, stroke="#8d8d8d", strokeWidth=1.4, strokeJoin="round").project(**PROJ)
border_layer = alt.Chart(alt.Data(values=[lines(state_borders)])).mark_geoshape(
    filled=False, stroke="#222222", strokeWidth=2.5, strokeJoin="round").project(**PROJ)
df_layer = alt.Chart(alt.Data(values=[poly(distrito_federal, C2)])).mark_geoshape(
    fill="#f4b33f", stroke="#222222", strokeWidth=2.2).project(**PROJ)

pills = [box(TX + K * lo - w / 2, TX + K * lo + w / 2, TY - K * la - 8.5, TY - K * la + 8.5, PILL, cornerRadius=6)
         for lo, la, w in zip(state_lon, state_lat, pill_width)]
names_df = pd.DataFrame({"name": state_names, "lon": state_lon, "lat": state_lat})
names = alt.Chart(names_df).mark_text(font=FONT, fontSize=15.6, color="#fdf3ea", align="center",
                                      baseline="middle").encode(
    longitude="lon:Q", latitude="lat:Q", text="name:N").project(**PROJ)

legend = []
for lab, col, y0 in zip(legend_labels, legend_colors, [660, 691, 723, 753]):
    legend.append(box(348.5, 434.5, y0, y0 + 22, col))
    legend.append(text(lab, 443.5, y0 + 12.5, 17.4, "#222222"))

bottom = alt.layer(
    fill_layer, pale_layer, outline_layer, border_layer, df_layer, *pills, names,
    text("Mapa 1", 72, 60, 34.8, BLUE, 700),
    text("DISTRIBUIÇÃO DO REBANHO BOVINO NO BRASIL", 72.5, 129, 24.6, "#2a6a9e", 300),
    alt.Chart(ONE).mark_rect(fill=GREY, stroke="#222222", strokeWidth=3).encode(
        x=alt.value(348.5), x2=alt.value(434.5), y=alt.value(564), y2=alt.value(595)),
    text("Limite estadual", 443.5, 581.5, 17.4, "#222222"),
    text("Rebanho Bovino (cabeças)", 346.5, 632, 19.9, "#111111", 700),
    *legend,
    text("Fonte: IBGE / LAPIG - Elaboração ABIEC", 203.5, 914, 14.9, DARK, 300),
).properties(width=W, height=H2, view=alt.ViewBackground(fill=GREY, stroke=None))

# ---------- running foot ----------
foot = alt.layer(
    text("Perfil da Pecuária no Brasil", 1340.5, 17, 20.1, "#1a1a1a", 700, align="right"),
    box(1351.5, 1359.5, 0, 40, "#8abd45"),
    text("25", 1372.5, 17, 20, "#1a1a1a", 700),
).properties(width=1410, height=50, view=alt.ViewBackground(fill="white", stroke=None))

chart = alt.vconcat(top, bottom, foot, spacing=26).properties(
    padding={"left": 119.5, "top": 114, "right": 0, "bottom": 0}, background="white")
chart.save("out.html", embed_options={"renderer": "svg", "actions": False})
